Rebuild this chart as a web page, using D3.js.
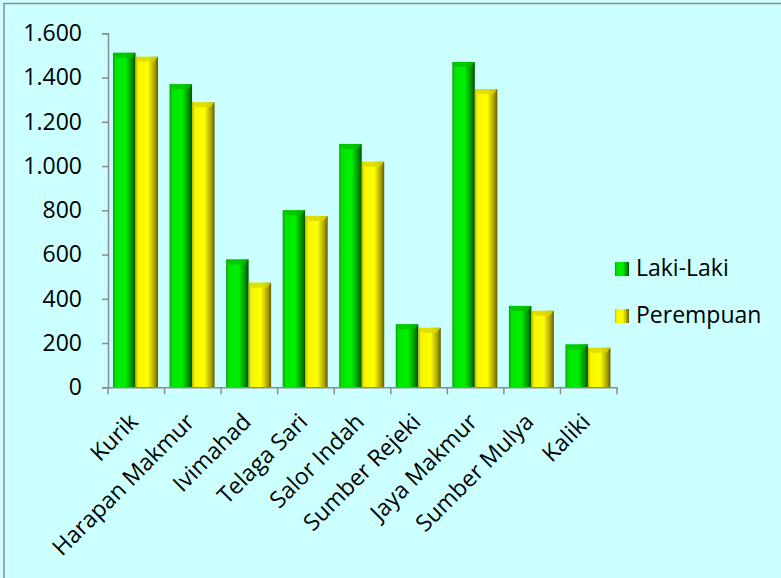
<!DOCTYPE html>
<html lang="id">
<head>
    <meta charset="UTF-8">
    <title>Penduduk menurut jenis kelamin</title>
    <script src="https://d3js.org/d3.v7.min.js"></script>
    <style>
        body { margin: 0; background: #ccffff; }
        text { font-family: "Open Sans", "Noto Sans", sans-serif; fill: #000; }
    </style>
</head>
<body>
<script>
    // data
    const villages = ["Kurik", "Harapan Makmur", "Ivimahad", "Telaga Sari", "Salor Indah",
        "Sumber Rejeki", "Jaya Makmur", "Sumber Mulya", "Kaliki"]
    const series = ["Laki-Laki", "Perempuan"]
    const lakiLaki = [1512, 1370, 578, 800, 1100, 285, 1470, 368, 194]
    const perempuan = [1494, 1288, 473, 774, 1020, 269, 1348, 346, 179]
    const yTicks = [0, 200, 400, 600, 800, 1000, 1200, 1400, 1600]

    const width = 781
    const height = 578
    const plotLeft = 108, plotRight = 617, plotTop = 33.3, plotBottom = 387.3

    const rows = villages.map((v, i) => ({ village: v, values: [lakiLaki[i], perempuan[i]] }))

    const svg = d3.select("body")
        .append("svg")
        .attr("width", width)
        .attr("height", height)

    // light cyan frame with grey border on top and left
    svg.append("rect")
        .attr("width", width)
        .attr("height", height)
        .attr("fill", "#ccffff")
    svg.append("path")
        .attr("d", `M4,${height} L4,3.5 L${width},3.5`)
        .attr("fill", "none")
        .attr("stroke", "#8c8c8c")
        .attr("stroke-width", 1.5)

    const xScale = d3.scaleBand()
        .domain(villages)
        .range([plotLeft, plotRight])

    const xInner = d3.scaleBand()
        .domain(series)
        .range([5, 50])

    const yScale = d3.scaleLinear()
        .domain([0, 1600])
        .range([plotBottom, plotTop])

    // bevelled bar look
    const defs = svg.append("defs")
    const grads = [
        { id: "gGreen", stops: ["#119911", "#00e600", "#00f000", "#009000", "#004c00"] },
        { id: "gYellow", stops: ["#b8b400", "#f6f600", "#ffff00", "#a8a000", "#625c00"] }
    ]
    grads.forEach(g => {
        const lg = defs.append("linearGradient").attr("id", g.id)
            .attr("x1", "0").attr("x2", "1").attr("y1", "0").attr("y2", "0")
        const offs = [0, 0.12, 0.55, 0.85, 1]
        g.stops.forEach((c, i) => lg.append("stop").attr("offset", offs[i]).attr("stop-color", c))
    })
    const fills = ["url(#gGreen)", "url(#gYellow)"]
    const capColors = ["#00c000", "#d8d800"]

    const groups = svg.selectAll("g.village")
        .data(rows)
        .enter()
        .append("g")
        .attr("class", "village")
        .attr("transform", d => `translate(${xScale(d.village)},0)`)

    groups.selectAll("rect")
        .data(d => d.values.map((v, i) => ({ s: series[i], v: v, i: i })))
        .enter()
        .append("rect")
        .attr("x", d => xInner(d.s))
        .attr("y", d => yScale(d.v))
        .attr("width", xInner.bandwidth())
        .attr("height", d => yScale(0) - yScale(d.v))
        .attr("fill", d => fills[d.i])

    // small roof bevel on top of each bar
    groups.selectAll("path.cap")
        .data(d => d.values.map((v, i) => ({ s: series[i], v: v, i: i })))
        .enter()
        .append("path")
        .attr("class", "cap")
        .attr("d", d => {
            const x0 = xInner(d.s), w = xInner.bandwidth(), y0 = yScale(d.v)
            return `M${x0},${y0} L${x0 + w},${y0} L${x0 + w - 4},${y0 + 5} L${x0 + 4},${y0 + 5} Z`
        })
        .attr("fill", d => capColors[d.i])
        .attr("opacity", 0.8)

    // axes
    const yAxis = svg.append("g")
        .attr("transform", `translate(${plotLeft},0)`)
        .call(d3.axisLeft(yScale)
            .tickValues(yTicks)
            .tickSize(6)
            .tickPadding(20)
            .tickFormat(d => d3.format(",")(d).replace(/,/g, ".")))
    yAxis.selectAll("text").style("font-size", "23px")

    const xAxis = svg.append("g")
        .attr("transform", `translate(0,${plotBottom})`)
        .call(d3.axisBottom(xScale).tickSize(0).tickFormat(""))
    xAxis.selectAll(".tick").remove()
    xAxis.selectAll(".bnd")
        .data(villages.concat(["end"]))
        .enter()
        .append("line")
        .attr("class", "bnd")
        .attr("x1", (d, i) => i < villages.length ? xScale(d) : xScale.range()[1])
        .attr("x2", (d, i) => i < villages.length ? xScale(d) : xScale.range()[1])
        .attr("y1", 0)
        .attr("y2", 7)

    svg.selectAll(".domain, .tick line, .bnd")
        .attr("stroke", "#8c8c8c")
        .attr("stroke-width", 1.5)

    svg.selectAll("text.cat")
        .data(villages)
        .enter()
        .append("text")
        .attr("class", "cat")
        .attr("text-anchor", "end")
        .attr("transform", d => `translate(${xScale(d) + xScale.bandwidth() / 2 + 3},${plotBottom + 36}) rotate(-45)`)
        .style("font-size", "23px")
        .text(d => d)

    // legend
    const legend = svg.selectAll("g.legend")
        .data(series)
        .enter()
        .append("g")
        .attr("class", "legend")
        .attr("transform", (d, i) => `translate(615,${262 + i * 47})`)
    legend.append("rect")
        .attr("width", 14)
        .attr("height", 14)
        .attr("fill", (d, i) => fills[i])
    legend.append("text")
        .attr("x", 21)
        .attr("y", 14)
        .style("font-size", "23px")
        .text(d => d)
</script>
</body>
</html>
